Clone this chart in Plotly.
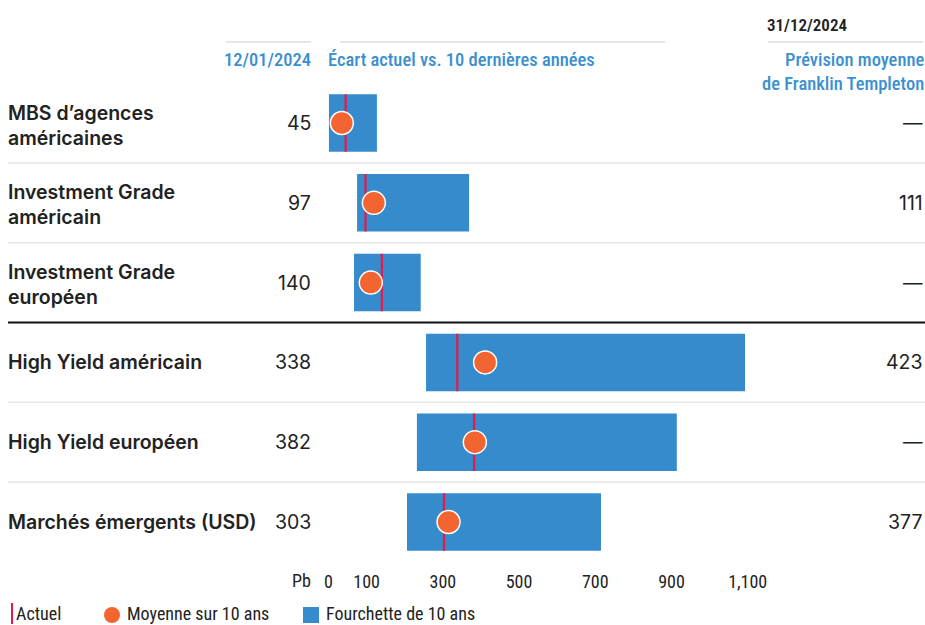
import plotly.graph_objects as go

categories = ["MBS d’agences<br>américaines", "Investment Grade<br>américain",
              "Investment Grade<br>européen", "High Yield américain",
              "High Yield européen", "Marchés émergents (USD)"]
current = [45, 97, 140, 338, 382, 303]
avg10 = [35, 119, 111, 411, 384, 315]
range_low = [1, 75, 67, 256, 232, 206]
range_high = [127, 369, 242, 1093, 914, 715]
forecast = ["—", "111", "—", "423", "—", "377"]
tick_vals = [0, 100, 300, 500, 700, 900, 1100]
tick_text = ["0", "100", "300", "500", "700", "900", "1,100"]

W, H = 925, 625
BLUE = "#358BCB"
ORANGE = "#F26531"
RED = "#E6194C"
HBLUE = "#3A8FD0"
COND = "Roboto Condensed, Liberation Sans Narrow, DejaVu Sans Condensed, Roboto, sans-serif"
SANS = "Inter, Roboto, sans-serif"

rows = list(range(len(categories)))
row0_px, row_step = 123, 79.8

def py(px):
    return 1 - px / H

fig = go.Figure()
fig.add_trace(go.Bar(orientation="h", y=rows, base=range_low,
                     x=[h - l for h, l in zip(range_high, range_low)],
                     width=0.72, marker=dict(color=BLUE, line=dict(width=0)),
                     hoverinfo="skip"))
lx, ly = [], []
for i, v in zip(rows, current):
    lx += [v, v, None]
    ly += [i - 0.36, i + 0.36, None]
fig.add_trace(go.Scatter(x=lx, y=ly, mode="lines",
                         line=dict(color=RED, width=2.2), hoverinfo="skip"))
fig.add_trace(go.Scatter(x=avg10, y=rows, mode="markers",
                         marker=dict(color=ORANGE, size=23,
                                     line=dict(color="white", width=1.5)),
                         hoverinfo="skip"))

ann = []
shapes = []
for i in rows:
    multi = "<br>" in categories[i]
    ann.append(dict(x=6 / W, xref="paper", y=i, yref="y", text=categories[i],
                    showarrow=False, xanchor="left", yanchor="middle", align="left",
                    yshift=-2 if multi else 0,
                    font=dict(family=SANS, size=19.5, color="#222222", weight=600)))
    ann.append(dict(x=313 / W, xref="paper", y=i, yref="y", text=str(current[i]),
                    showarrow=False, xanchor="right", yanchor="middle",
                    font=dict(family=SANS, size=19.5, color="#222222")))
    ann.append(dict(x=925 / W, xref="paper", y=i, yref="y", text=forecast[i],
                    showarrow=False, xanchor="right", yanchor="middle",
                    font=dict(family=SANS, size=19.5, color="#222222")))
for i in rows[:-1]:
    black = (i == 2)
    shapes.append(dict(type="line", xref="paper", yref="y", x0=8 / W, x1=1,
                       y0=i + 0.5, y1=i + 0.5,
                       line=dict(color="#111111" if black else "#E6E6E6",
                                 width=2 if black else 1.5)))

# headers
for x0, x1 in [(226, 311), (340, 665), (768, 923)]:
    shapes.append(dict(type="line", xref="paper", yref="paper", x0=x0 / W, x1=x1 / W,
                       y0=py(42), y1=py(42), line=dict(color="#E6E6E6", width=2)))
ann.append(dict(x=313 / W, xref="paper", y=py(60), yref="paper", text="12/01/2024",
                showarrow=False, xanchor="right", yanchor="middle",
                font=dict(family=COND, size=18.5, color=HBLUE, weight=500)))
ann.append(dict(x=326 / W, xref="paper", y=py(60), yref="paper",
                text="Écart actuel vs. 10 dernières années",
                showarrow=False, xanchor="left", yanchor="middle",
                font=dict(family=COND, size=18.5, color=HBLUE, weight=500)))
ann.append(dict(x=765 / W, xref="paper", y=py(25), yref="paper", text="31/12/2024",
                showarrow=False, xanchor="left", yanchor="middle",
                font=dict(family=COND, size=17, color="#222222", weight=600)))
ann.append(dict(x=926 / W, xref="paper", y=py(72), yref="paper",
                text="Prévision moyenne<br>de Franklin Templeton",
                showarrow=False, xanchor="right", yanchor="middle", align="right",
                font=dict(family=COND, size=18.5, color=HBLUE, weight=500)))
ann.append(dict(x=301 / W, xref="paper", y=py(580), yref="paper", text="Pb",
                showarrow=False, xanchor="center", yanchor="middle",
                font=dict(family=COND, size=18, color="#222222")))

# legend
LY = 613
shapes.append(dict(type="line", xref="paper", yref="paper", x0=12 / W, x1=12 / W,
                   y0=py(603), y1=py(624), line=dict(color=RED, width=2)))
ann.append(dict(x=14 / W, xref="paper", y=py(LY), yref="paper", text="Actuel",
                showarrow=False, xanchor="left", yanchor="middle",
                font=dict(family=COND, size=18, color="#222222")))
shapes.append(dict(type="circle", xref="paper", yref="paper",
                   x0=104 / W, x1=120 / W, y0=py(607), y1=py(623),
                   fillcolor=ORANGE, line=dict(width=0)))
ann.append(dict(x=125 / W, xref="paper", y=py(LY), yref="paper",
                text="Moyenne sur 10 ans",
                showarrow=False, xanchor="left", yanchor="middle",
                font=dict(family=COND, size=18, color="#222222")))
shapes.append(dict(type="rect", xref="paper", yref="paper",
                   x0=303 / W, x1=319 / W, y0=py(607), y1=py(623),
                   fillcolor=BLUE, line=dict(width=0)))
ann.append(dict(x=324 / W, xref="paper", y=py(LY), yref="paper",
                text="Fourchette de 10 ans",
                showarrow=False, xanchor="left", yanchor="middle",
                font=dict(family=COND, size=18, color="#222222")))

fig.update_layout(
    width=W, height=H, margin=dict(l=0, r=0, t=0, b=0, autoexpand=False),
    paper_bgcolor="white", plot_bgcolor="rgba(0,0,0,0)",
    showlegend=False, barmode="overlay",
    xaxis=dict(domain=[328.5 / W, 747.7 / W], range=[0, 1100],
               tickvals=tick_vals, ticktext=tick_text, showgrid=False,
               zeroline=False, showline=False, ticks="",
               anchor="free", position=py(569), automargin=False,
               tickfont=dict(family=COND, size=18, color="#222222")),
    yaxis=dict(domain=[0, 1], automargin=False,
               range=[(H - row0_px) / row_step, -row0_px / row_step],
               visible=False, showgrid=False, zeroline=False),
    annotations=ann, shapes=shapes,
)
fig.write_html("out.html")
